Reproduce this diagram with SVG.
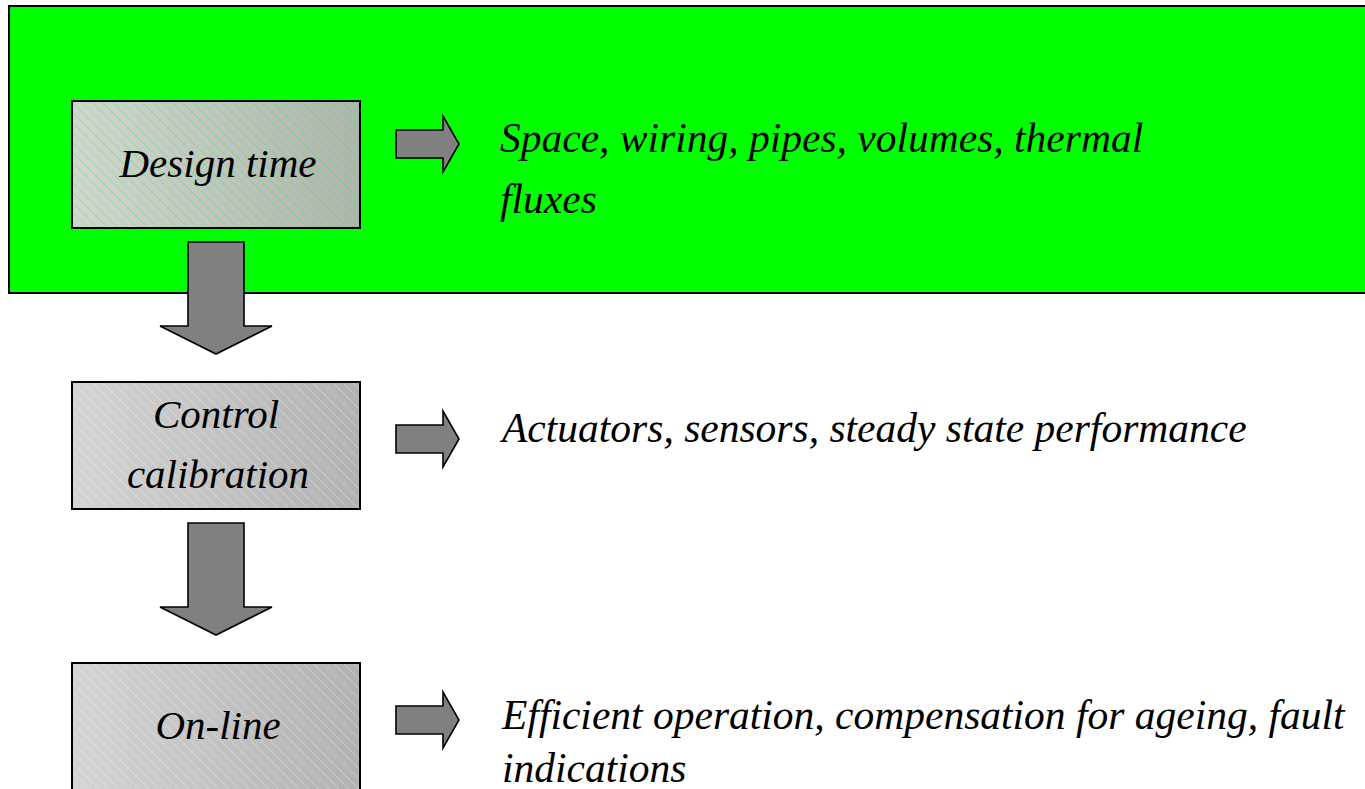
<svg xmlns="http://www.w3.org/2000/svg" width="1365" height="789" viewBox="0 0 1365 789">
<style>
.arr{fill:#808080;stroke:#000;stroke-width:1.6;stroke-linejoin:miter;}
.lbl{font-family:"Liberation Serif",serif;font-style:italic;font-size:41px;fill:#000;}
.desc{font-family:"Liberation Serif",serif;font-style:italic;font-size:41.5px;fill:#000;}
</style>
<defs>
<linearGradient id="boxgrad" x1="0" y1="0" x2="1" y2="0">
<stop offset="0" stop-color="#d4d4d4"/>
<stop offset="1" stop-color="#b2b2b2"/>
</linearGradient>
<pattern id="hatch" width="10" height="10" patternUnits="userSpaceOnUse">
<rect width="10" height="10" fill="#fff"/>
<path d="M-1,-1 L11,11 M-1,9 L1,11 M9,-1 L11,1" stroke="#000" stroke-width="0.7" stroke-opacity="0.45"/>
</pattern>
<mask id="hm" maskUnits="userSpaceOnUse" x="0" y="0" width="1365" height="789">
<rect x="0" y="0" width="1365" height="789" fill="url(#hatch)"/>
</mask>
</defs>
<rect x="0" y="0" width="1365" height="789" fill="#fff"/>
<g id="band">
<rect x="9" y="6" width="1370" height="287" fill="#00ff00" stroke="#000" stroke-width="2"/>
</g>
<g id="connectors">
<polygon class="arr" points="188,242 244,242 244,326 272,326 216,354 160,326 188,326"/>
<polygon class="arr" points="188,523 244,523 244,607 272,607 216,635 160,607 188,607"/>
<polygon class="arr" points="396,130 443,130 443,116 459,144 443,172 443,158 396,158"/>
<polygon class="arr" points="396,425 443,425 443,411 459,439 443,467 443,453 396,453"/>
<polygon class="arr" points="396,706 443,706 443,692 459,720 443,748 443,734 396,734"/>
</g>
<g id="design-time">
<rect x="72" y="101" width="288" height="127" fill="url(#boxgrad)" mask="url(#hm)"/>
<rect x="72" y="101" width="288" height="127" fill="none" stroke="#000" stroke-width="2"/>
<text class="lbl" x="218" y="177" text-anchor="middle">Design time</text>
</g>
<g id="control-calibration">
<rect x="72" y="382" width="288" height="127" fill="url(#boxgrad)" mask="url(#hm)"/>
<rect x="72" y="382" width="288" height="127" fill="none" stroke="#000" stroke-width="2"/>
<text class="lbl" x="216" y="428" text-anchor="middle">Control</text>
<text class="lbl" x="218" y="488" text-anchor="middle">calibration</text>
</g>
<g id="on-line">
<rect x="72" y="663" width="288" height="140" fill="url(#boxgrad)" mask="url(#hm)"/>
<rect x="72" y="663" width="288" height="140" fill="none" stroke="#000" stroke-width="2"/>
<text class="lbl" x="218" y="739" text-anchor="middle">On-line</text>
</g>
<g id="descriptions">
<text class="desc" x="500" y="152">Space, wiring, pipes, volumes, thermal</text>
<text class="desc" x="500" y="213">fluxes</text>
<text class="desc" x="502" y="442">Actuators, sensors, steady state performance</text>
<text class="desc" x="502" y="729">Efficient operation, compensation for ageing, fault</text>
<text class="desc" x="502" y="782">indications</text>
</g>
</svg>
